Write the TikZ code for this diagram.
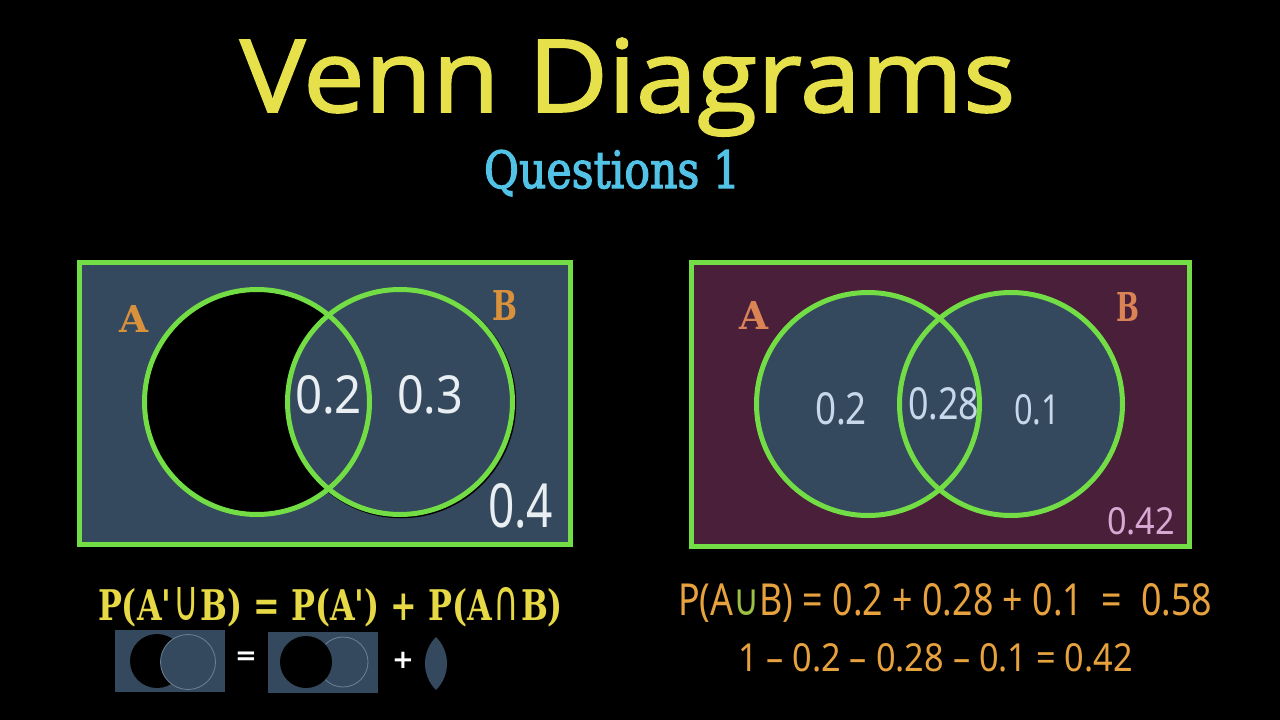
\documentclass[tikz,border=0pt]{standalone}
\usepackage{fontspec}
\usepackage{graphicx}
\newfontfamily\titlefont[FakeBold=1.6]{Open Sans}
\newfontfamily\qfont[FakeBold=2.5]{DejaVu Serif}
\newfontfamily\slabfont{DejaVu Serif}
\newfontfamily\numfont{Noto Sans}
\newfontfamily\symfont{DejaVu Sans}
\newcommand\fitbox[3]{\resizebox{#1pt}{#2pt}{#3}}
\newcommand\bigsym[1]{\scalebox{1.1}[1.35]{{\symfont\mdseries #1}}}
\definecolor{slate}{HTML}{35495E}
\definecolor{wine}{HTML}{4A1F3A}
\definecolor{vgreen}{HTML}{72DD45}
\definecolor{ttl}{HTML}{E6E14B}
\definecolor{qblue}{HTML}{52C3E6}
\definecolor{lorange}{HTML}{D9913B}
\definecolor{rorange}{HTML}{DA8456}
\definecolor{numw}{HTML}{E8EEF2}
\definecolor{numb}{HTML}{C7D8EA}
\definecolor{numpink}{HTML}{D9A9D3}
\definecolor{eqorange}{HTML}{E7A23E}
\definecolor{eqyellow}{HTML}{E6D945}
\definecolor{cupgreen}{HTML}{9CBF45}
\definecolor{faint}{HTML}{6A8296}
\begin{document}
\begin{tikzpicture}[x=1pt,y=-1pt,
  txt/.style={inner sep=0pt, outer sep=0pt, anchor=base west},
  frame/.style={draw=vgreen, line width=5pt},
  ring/.style={draw=vgreen, line width=5pt},
  minibox/.style={fill=slate}]
\fill[black] (0,0) rectangle (1280,720);
\useasboundingbox (0,0) rectangle (1280,720);

% titles
\node[txt, text=ttl] (title) at (240,112) {\fitbox{775}{74}{\titlefont Venn Diagrams}};
\node[txt, text=qblue] (sub) at (484,188) {\fitbox{256}{38}{\qfont Questions 1}};

% left panel
\draw[frame, fill=slate] (79.5,262.5) rectangle (570.5,544.5);
\fill[black] (257,402) circle (112.5);
\draw[black, line width=2.5pt] (401,403) circle (114);
\fill[slate] (400,402) circle (112.5);
\draw[ring] (257,402) circle (112.5);
\draw[ring] (400,402) circle (112.5);
\node[txt, text=lorange] (la) at (119,332) {\fitbox{29}{27}{\slabfont\bfseries A}};
\node[txt, text=lorange] (lb) at (492,320) {\fitbox{25}{30}{\slabfont\bfseries B}};
\node[txt, text=numw] (l02) at (295,413) {\fitbox{67}{38}{\numfont 0.2}};
\node[txt, text=numw] (l03) at (397,413) {\fitbox{66}{38}{\numfont 0.3}};
\node[txt, text=numw] (l04) at (488,527) {\fitbox{65}{44}{\numfont 0.4}};

% right panel
\draw[frame, fill=wine] (691.5,262.5) rectangle (1189.5,546.5);
\fill[slate] (868,404) circle (111.5);
\fill[slate] (1011,404) circle (111.5);
\draw[ring] (868,404) circle (111.5);
\draw[ring] (1011,404) circle (111.5);
\node[txt, text=rorange] (ra) at (739,329) {\fitbox{29}{28}{\slabfont\bfseries A}};
\node[txt, text=rorange] (rb) at (1116,321) {\fitbox{23}{29}{\slabfont\bfseries B}};
\node[txt, text=numb] (r02) at (815,424) {\fitbox{52}{32}{\numfont 0.2}};
\node[txt, text=numb] (r028) at (908,419) {\fitbox{71}{32}{\numfont 0.28}};
\node[txt, text=numb] (r01) at (1014,424) {\fitbox{46}{30}{\numfont 0.1}};
\node[txt, text=numpink] (r042) at (1107,534) {\fitbox{68}{27}{\numfont 0.42}};

% left formula
\node[txt, text=eqyellow] (lform) at (98,620) {\fitbox{465}{33}{\slabfont\bfseries P(A'\kern.05em\bigsym{∪}\kern.05emB) = P(A') + P(A\kern.05em\bigsym{∩}\kern.05emB)}};

% mini pictures
\fill[minibox] (115,630) rectangle (225,692);
\fill[black] (157,661) circle (27);
\fill[slate] (188,662) circle (27.5);
\draw[faint, line width=0.8pt] (188,662) circle (27.5);
\node[text=white, inner sep=0pt, font=\symfont\bfseries\fontsize{26}{26}\selectfont] (eqs) at (246,658) {=};
\fill[minibox] (268,632) rectangle (378,693);
\draw[faint, line width=0.8pt] (343,662) circle (25);
\fill[black] (306,662) circle (26);
\node[text=white, inner sep=0pt, font=\symfont\bfseries\fontsize{26}{26}\selectfont] (pls) at (403,660) {+};
\begin{scope}
  \clip (409.6,663.5) circle (37.4);
  \fill[slate] (462.4,663.5) circle (37.4);
\end{scope}

% right equations
\node[txt, text=eqorange] (req1) at (678,615) {\fitbox{534}{32}{\numfont P(A{\symfont\color{cupgreen}∪}B) = 0.2 + 0.28 + 0.1 \ = \ 0.58}};
\node[txt, text=eqorange] (req2) at (738,671) {\fitbox{395}{28}{\numfont 1 – 0.2 – 0.28 – 0.1 = 0.42}};
\end{tikzpicture}
\end{document}
